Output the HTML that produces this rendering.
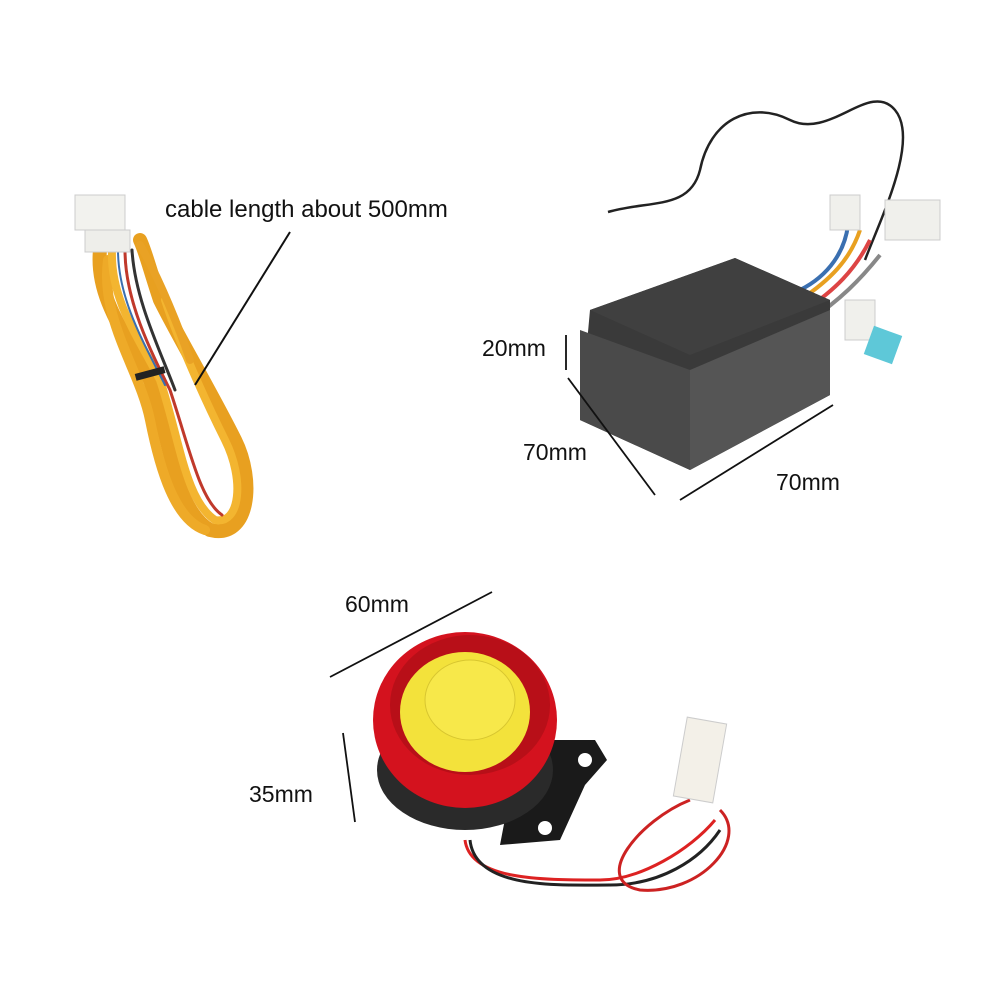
<!DOCTYPE html>
<html><head><style>
html,body{margin:0;padding:0;background:#fff;}
svg{display:block}
text{font-family:"Liberation Sans",sans-serif;fill:#111;}
</style></head><body>
<svg width="1000" height="1000" viewBox="0 0 1000 1000">
<rect width="1000" height="1000" fill="#fff"/>
<!-- cable bundle -->
<g fill="none" stroke-linecap="round">
<path d="M100 250 C95 300,130 340,150 380 C170 440,175 510,210 530 C250 540,255 480,235 440 C210 390,180 340,160 300 C150 270,145 250,140 240" stroke="#e8a020" stroke-width="14"/>
<path d="M108 260 C100 320,140 370,150 420 C160 470,175 520,205 530" stroke="#eeaa28" stroke-width="10"/>
<path d="M112 250 C110 300,140 340,160 380 C180 440,185 500,215 520 C240 525,245 480,225 440 C205 400,178 340,165 300" stroke="#f3b530" stroke-width="8"/>
<path d="M125 250 C125 300,150 350,170 390 C190 450,200 500,222 515" stroke="#c0392b" stroke-width="3"/>
<path d="M132 250 C135 300,160 350,175 390" stroke="#333" stroke-width="3"/>
<path d="M118 250 C118 300,145 345,165 385" stroke="#3a6fb0" stroke-width="2"/>
<path d="M140 245 C160 280,180 330,190 360" stroke="#e9a225" stroke-width="8"/>
</g>
<rect x="75" y="195" width="50" height="35" fill="#f2f2ee" stroke="#ccc"/>
<rect x="85" y="230" width="45" height="22" fill="#eeeeea" stroke="#ccc"/>
<rect x="135" y="370" width="30" height="7" fill="#222" transform="rotate(-15 150 373)"/>
<line x1="290" y1="232" x2="195" y2="385" stroke="#111" stroke-width="2"/>
<text x="165" y="217" font-size="24">cable length about 500mm</text>
<!-- black box wire -->
<path d="M608 212 C650 200,690 210,700 170 C710 120,750 100,790 120 C830 140,870 80,895 110 C920 140,880 220,865 260" fill="none" stroke="#222" stroke-width="2.5"/>
<g stroke-width="4" fill="none">
<path d="M800 300 C830 280,850 260,860 230" stroke="#e8a020"/>
<path d="M805 310 C835 290,855 270,870 240" stroke="#d44"/>
<path d="M810 320 C840 300,860 280,880 255" stroke="#888"/>
<path d="M800 290 C830 275,845 250,848 225" stroke="#3a6fb0"/>
</g>
<rect x="830" y="195" width="30" height="35" fill="#f0f0ec" stroke="#ccc"/>
<rect x="885" y="200" width="55" height="40" fill="#f0f0ec" stroke="#ccc"/>
<rect x="845" y="300" width="30" height="40" fill="#f0f0ec" stroke="#ccc"/>
<rect x="868" y="330" width="30" height="30" fill="#5ec8d8" transform="rotate(20 883 345)"/>
<!-- box -->
<polygon points="590,310 735,258 830,300 830,395 690,470 580,420" fill="#3a3a3a"/>
<polygon points="590,310 735,258 830,300 690,355" fill="#404040"/>
<polygon points="580,330 690,370 690,470 580,420" fill="#4a4a4a"/>
<polygon points="690,370 830,310 830,395 690,470" fill="#555"/>
<!-- dims -->
<g stroke="#111" stroke-width="1.8">
<line x1="566" y1="335" x2="566" y2="370"/>
<line x1="568" y1="378" x2="655" y2="495"/>
<line x1="680" y1="500" x2="833" y2="405"/>
<line x1="330" y1="677" x2="492" y2="592"/>
<line x1="343" y1="733" x2="355" y2="822"/>
</g>
<text x="482" y="356" font-size="23">20mm</text>
<text x="523" y="460" font-size="23">70mm</text>
<text x="776" y="490" font-size="23">70mm</text>
<text x="345" y="612" font-size="23">60mm</text>
<text x="249" y="802" font-size="23">35mm</text>
<!-- siren -->
<path d="M520 740 L595 740 L607 760 L585 785 L560 840 L500 845 Z" fill="#1a1a1a"/>
<circle cx="545" cy="828" r="7" fill="#fff"/>
<circle cx="585" cy="760" r="7" fill="#fff"/>
<path d="M465 840 C470 880,540 880,600 880 C640 880,690 850,715 820" fill="none" stroke="#d22" stroke-width="3"/>
<path d="M470 840 C475 890,560 885,610 885 C660 885,700 860,720 830" fill="none" stroke="#222" stroke-width="3"/>
<path d="M690 800 C640 820,590 880,640 890 C700 895,750 840,720 810" fill="none" stroke="#c22" stroke-width="3"/>
<rect x="680" y="720" width="40" height="80" fill="#f3f0e8" stroke="#ccc" transform="rotate(10 700 760)"/>
<ellipse cx="465" cy="770" rx="88" ry="60" fill="#2a2a2a"/>
<ellipse cx="465" cy="720" rx="92" ry="88" fill="#d4121e"/>
<ellipse cx="470" cy="705" rx="80" ry="70" fill="#b80f18"/>
<ellipse cx="465" cy="712" rx="65" ry="60" fill="#f3e23b"/>
<ellipse cx="470" cy="700" rx="45" ry="40" fill="#f7e84a" stroke="#d8c630"/>
</svg>
</body></html>
